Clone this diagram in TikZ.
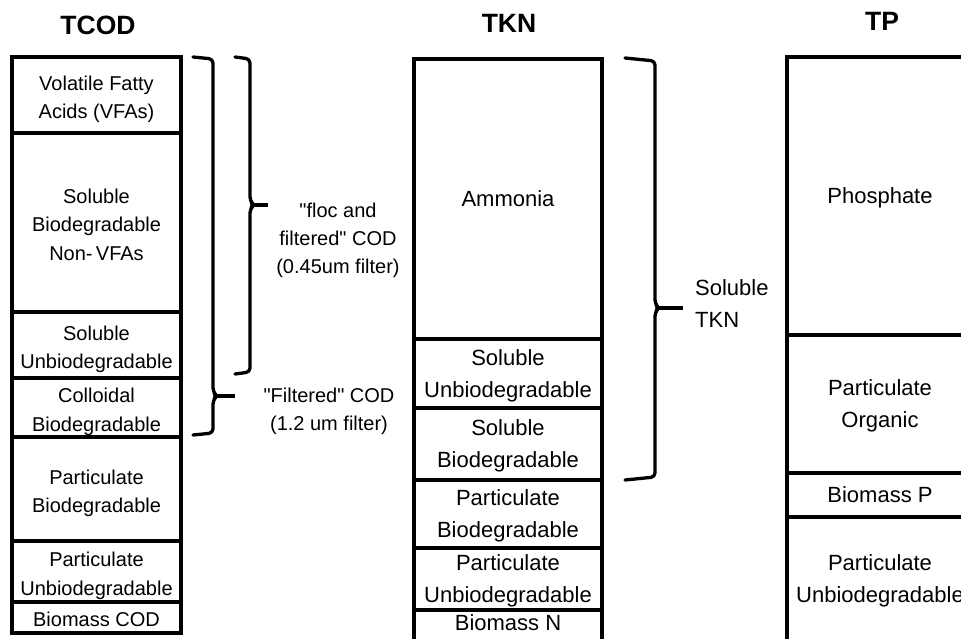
\documentclass[tikz,border=0pt]{standalone}
\usepackage{fontspec}
\setmainfont{Liberation Sans}
\newcommand\Tst{\rule{0pt}{23.8pt}}
\newcommand\Bst{\rule[-5.2pt]{0pt}{5.2pt}}
\newcommand\Tsn{\rule{0pt}{21.5pt}}
\newcommand\Bsn{\rule[-6.5pt]{0pt}{6.5pt}}
\begin{document}
\begin{tikzpicture}[x=1pt,y=-1pt,
  cell/.style={draw, line width=3.2pt, inner sep=0pt, align=center, text=black},
  cod/.style={cell, line width=3.6pt, font=\fontsize{20}{28.5}\selectfont, minimum width=169pt},
  tkn/.style={cell, font=\fontsize{22}{32}\selectfont, minimum width=188pt},
  tpc/.style={cell, font=\fontsize{22}{32}\selectfont, minimum width=186pt},
  title/.style={font=\fontsize{26.5}{30}\selectfont\bfseries, inner sep=0pt},
  lbl/.style={font=\fontsize{20}{28}\selectfont, align=center, inner sep=0pt},
  lbltkn/.style={font=\fontsize{22}{32}\selectfont, align=left, inner sep=0pt},
  brace/.style={line width=3.3pt, rounded corners=4pt, line join=round, line cap=round},
  tick/.style={line width=3.3pt}]
\useasboundingbox (0,0) rectangle (961,639);
\clip (0,0) rectangle (961,639);

% titles
\node[title] (tcodT) at (98,25) {TCOD};
\node[title] (tknT) at (509,23) {TKN};
\node[title] (tpT) at (882,21) {TP};

% TCOD column
\node[cod, minimum height=76pt] (vfa) at (96.5,95) {\Tst Volatile Fatty\\Acids (VFAs)\Bst};
\node[cod, minimum height=179pt] (sbnv) at (96.5,222.5) {\Tst Soluble\\Biodegradable\\Non-\,VFAs\Bst};
\node[cod, minimum height=66pt] (csu) at (96.5,345) {\Tst Soluble\\Unbiodegradable\Bst};
\node[cod, minimum height=59pt] (ccb) at (96.5,407.5) {\Tst Colloidal\\Biodegradable\Bst};
\node[cod, minimum height=104pt] (cpb) at (96.5,489) {\Tst Particulate\\Biodegradable\Bst};
\node[cod, minimum height=61pt] (cpu) at (96.5,571.5) {\Tst Particulate\\Unbiodegradable\Bst};
\node[cod, minimum height=31pt] (bcod) at (96.5,617.5) {\Tst Biomass COD\Bst};

% TKN column
\node[tkn, minimum height=280pt] (amm) at (508,199) {\Tsn Ammonia\Bsn};
\node[tkn, minimum height=69pt] (nsu) at (508,373.5) {\Tsn Soluble\\Unbiodegradable\Bsn};
\node[tkn, minimum height=72pt] (nsb) at (508,444) {\Tsn Soluble\\Biodegradable\Bsn};
\node[tkn, minimum height=68pt] (npb) at (508,514) {\Tsn Particulate\\Biodegradable\Bsn};
\node[tkn, minimum height=62pt] (npu) at (508,579) {\Tsn Particulate\\Unbiodegradable\Bsn};
\node[tkn, minimum height=40pt, text height=16pt, text depth=16pt] (bn) at (508,630) {Biomass N};

% TP column
\node[tpc, minimum height=278pt] (phos) at (880,196) {\Tsn Phosphate\Bsn};
\node[tpc, minimum height=138pt] (po) at (880,404) {\Tsn Particulate\\Organic\Bsn};
\node[tpc, minimum height=44pt] (bp) at (880,495) {\Tsn Biomass P\Bsn};
\node[tpc, minimum height=124pt] (ppu) at (880,579) {\Tsn Particulate\\Unbiodegradable\Bsn};

% braces
\draw[brace] (193,57) -- (213,59) -- (213,392) -- (217,396) -- (213,400) -- (213,433) -- (193,435);
\draw[tick] (216,396) -- (235,396);
\draw[brace] (235,57) -- (250,59) -- (250,201) -- (254,205) -- (250,209) -- (250,372) -- (235,374);
\draw[tick] (253,205) -- (268,205);
\draw[brace] (625,58) -- (655,61) -- (655,304) -- (659,308) -- (655,312) -- (655,477) -- (625,480);
\draw[tick] (658,308) -- (683,308);

% labels
\node[lbl] (floc) at (338,240) {\textquotedbl floc and\\filtered\textquotedbl\ COD\\(0.45um filter)};
\node[lbl] (filt) at (329,411) {\textquotedbl Filtered\textquotedbl\ COD\\(1.2 um filter)};
\node[lbltkn, anchor=west] (stkn) at (695,304) {Soluble\\TKN};
\end{tikzpicture}
\end{document}
